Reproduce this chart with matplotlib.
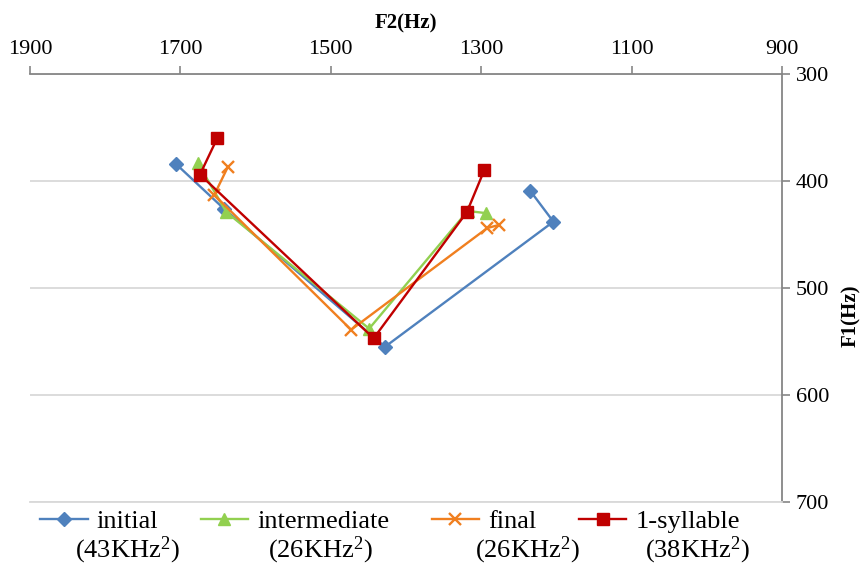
import matplotlib
matplotlib.use("Agg")
import matplotlib.pyplot as plt

plt.rcParams['font.family'] = ['Liberation Serif', 'DejaVu Serif']
plt.rcParams['mathtext.fontset'] = 'custom'
plt.rcParams['mathtext.rm'] = 'Liberation Serif'
plt.rcParams['mathtext.it'] = 'Liberation Serif'

# F2 (x) and F1 (y) values in Hz
initial_f2 = [1706, 1642, 1428, 1204, 1235]
initial_f1 = [384, 426, 555, 438, 409]
inter_f2 = [1677, 1639, 1449, 1318, 1294]
inter_f1 = [383, 429, 538, 428, 430]
final_f2 = [1637, 1655, 1473, 1292, 1276]
final_f1 = [387, 413, 539, 444, 441]
syll_f2 = [1651, 1674, 1443, 1319, 1296]
syll_f1 = [360, 394, 547, 429, 390]

names = ['initial', 'intermediate', 'final', '1-syllable']
areas = ['(43KHz$^2$)', '(26KHz$^2$)', '(26KHz$^2$)', '(38KHz$^2$)']
x_ticks = [1900, 1700, 1500, 1300, 1100, 900]
y_ticks = [300, 400, 500, 600, 700]

axis_col = '#868686'
grid_col = '#d9d9d9'

fig = plt.figure(figsize=(8.62, 5.67), dpi=100)
ax = fig.add_axes([30 / 862, 1 - 502 / 567, 752 / 862, 428 / 567])

ax.plot(initial_f2, initial_f1, color='#4F81BD', lw=1.7, marker='D', ms=7.5, label=names[0])
ax.plot(inter_f2, inter_f1, color='#92D050', lw=1.7, marker='^', ms=8, label=names[1])
ax.plot(final_f2, final_f1, color='#F07F1F', lw=1.7, marker='x', ms=9, mew=1.7, label=names[2])
ax.plot(syll_f2, syll_f1, color='#C00000', lw=1.7, marker='s', ms=8.5, label=names[3])

ax.set_xlim(1900, 900)
ax.set_ylim(700, 300)
ax.set_xticks(x_ticks)
ax.set_yticks(y_ticks)

ax.xaxis.tick_top()
ax.xaxis.set_label_position('top')
ax.yaxis.tick_right()
ax.yaxis.set_label_position('right')

ax.grid(axis='y', color=grid_col, lw=1.3)
ax.set_axisbelow(True)
ax.spines['left'].set_visible(False)
ax.spines['bottom'].set_color(grid_col)
ax.spines['bottom'].set_linewidth(1.3)
ax.spines['top'].set_color(axis_col)
ax.spines['right'].set_color(axis_col)
ax.spines['top'].set_linewidth(1.3)
ax.spines['right'].set_linewidth(1.3)

ax.tick_params(axis='x', direction='out', length=6, width=1.2, color=axis_col,
               labelsize=16, pad=5)
ax.tick_params(axis='y', direction='out', length=6, width=1.2, color=axis_col,
               labelsize=16, pad=4)

ax.set_xlabel('F2(Hz)', fontsize=15, fontweight='bold', labelpad=8)
ax.set_ylabel('F1(Hz)', fontsize=15, fontweight='bold', rotation=90)
ax.yaxis.label.set_va('center')
ax.yaxis.label.set_ha('center')
ax.yaxis.set_label_coords(1.092, 0.435)

leg = fig.legend(loc='upper left', bbox_to_anchor=(40 / 862, 1 - 510 / 567), ncol=4,
                 frameon=False, fontsize=19, handlelength=1.8, handletextpad=0.35,
                 columnspacing=1.6, borderpad=0, borderaxespad=0)

sub_x = [75, 268, 475, 645]
for i in range(4):
    fig.text(sub_x[i] / 862, 1 - 550 / 567, areas[i], fontsize=19, va='center', ha='left')

fig.savefig('out.png', dpi=100)
